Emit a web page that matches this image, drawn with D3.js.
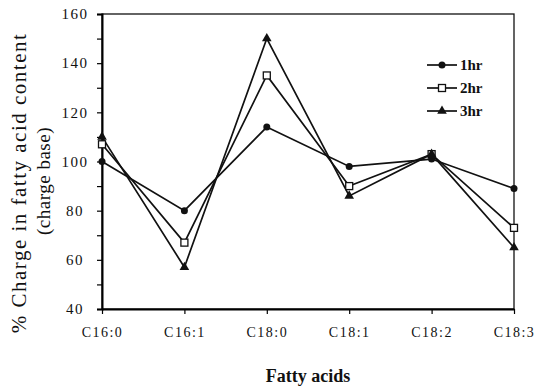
<!DOCTYPE html>
<html>
<head>
<meta charset="utf-8">
<script src="https://cdn.jsdelivr.net/npm/d3@7"></script>
<style>
  body { margin: 0; background: #fff; }
  svg { display: block; }
  text { font-family: 'Liberation Serif', 'DejaVu Serif', serif; fill: #111; }
</style>
</head>
<body>
<svg id="chart"></svg>
<script>
// data
const acids = ['C16:0', 'C16:1', 'C18:0', 'C18:1', 'C18:2', 'C18:3'];
const hr1 = [100, 80, 114, 98, 101, 89];
const hr2 = [107, 67, 135, 90, 103, 73];
const hr3 = [110, 57, 150, 86, 103, 65];
const seriesNames = ['1hr', '2hr', '3hr'];
const yTicks = [40, 60, 80, 100, 120, 140, 160];

const W = 536, H = 386;
const margin = {top: 14, right: 22, bottom: 77, left: 102};
const width = W - margin.left - margin.right;
const height = H - margin.top - margin.bottom;

const series = [
  {name: seriesNames[0], values: hr1, marker: 'circle'},
  {name: seriesNames[1], values: hr2, marker: 'square'},
  {name: seriesNames[2], values: hr3, marker: 'triangle'}
];

const svg = d3.select('#chart').attr('width', W).attr('height', H);
const g = svg.append('g').attr('transform', 'translate(' + margin.left + ',' + margin.top + ')');

const x = d3.scalePoint().domain(acids).range([0, width]);
const y = d3.scaleLinear().domain([40, 160]).range([height, 0]);

// frame
g.append('rect')
  .attr('width', width).attr('height', height)
  .attr('fill', 'none').attr('stroke', '#111').attr('stroke-width', 1.3);

// y axis: ticks every 10, labels every 20
const yAxis = g.append('g')
  .call(d3.axisLeft(y).tickValues(d3.range(40, 161, 10)).tickSize(5).tickFormat(''));
yAxis.select('.domain').attr('stroke-width', 2);
yAxis.selectAll('.tick line').attr('stroke-width', 1.2);

g.selectAll('.ylab')
  .data(yTicks).enter()
  .append('text')
  .attr('class', 'ylab')
  .attr('x', -27)
  .attr('y', d => y(d))
  .attr('dy', '0.35em')
  .attr('text-anchor', 'middle')
  .style('font-size', '15px')
  .style('letter-spacing', '1.5px')
  .text(d => d);

// x axis
const xAxis = g.append('g')
  .attr('transform', 'translate(0,' + height + ')')
  .call(d3.axisBottom(x).tickSize(5).tickSizeOuter(0).tickPadding(13));
xAxis.select('.domain').attr('stroke-width', 2);
xAxis.selectAll('.tick line').attr('stroke-width', 1.2);
xAxis.selectAll('.tick text')
  .style('font-size', '14px')
  .style('letter-spacing', '1.5px')
  .style('font-family', "'Liberation Serif', serif")
  .attr('fill', '#111');

// axis titles
svg.append('text')
  .attr('x', margin.left + width / 2)
  .attr('y', 382)
  .attr('text-anchor', 'middle')
  .style('font-size', '18px')
  .style('font-weight', 'bold')
  .text('Fatty acids');

svg.append('text')
  .attr('transform', 'translate(26,' + 183 + ') rotate(-90)')
  .attr('text-anchor', 'middle')
  .style('font-size', '21px')
  .style('letter-spacing', '1.5px')
  .text('% Charge in fatty acid content');

svg.append('text')
  .attr('transform', 'translate(50,' + 181 + ') rotate(-90)')
  .attr('text-anchor', 'middle')
  .style('font-size', '19px')
  .style('letter-spacing', '0.5px')
  .text('(charge base)');

// markers
const drawMarker = (sel, type) => {
  if (type === 'circle') {
    sel.append('circle').attr('r', 3.5).attr('fill', '#111');
  } else if (type === 'square') {
    sel.append('rect').attr('x', -3.5).attr('y', -3.5).attr('width', 7).attr('height', 7)
      .attr('fill', '#fff').attr('stroke', '#111').attr('stroke-width', 1.3);
  } else {
    sel.append('path').attr('d', d3.symbol().type(d3.symbolTriangle).size(40)).attr('fill', '#111');
  }
};

const line = d3.line()
  .x((d, i) => x(acids[i]))
  .y(d => y(d));

series.forEach(s => {
  g.append('path')
    .datum(s.values)
    .attr('d', line)
    .attr('fill', 'none')
    .attr('stroke', '#111')
    .attr('stroke-width', 1.7);
});

series.forEach(s => {
  g.selectAll('.m-' + s.name)
    .data(s.values).enter()
    .append('g')
    .attr('transform', (d, i) => 'translate(' + x(acids[i]) + ',' + y(d) + ')')
    .each(function() { drawMarker(d3.select(this), s.marker); });
});

// legend
const legend = svg.append('g').attr('transform', 'translate(427,65)');
series.forEach((s, i) => {
  const row = legend.append('g').attr('transform', 'translate(0,' + (i * 23) + ')');
  row.append('line').attr('x1', 0).attr('x2', 30)
    .attr('stroke', '#111').attr('stroke-width', 1.7);
  drawMarker(row.append('g').attr('transform', 'translate(15,0)'), s.marker);
  row.append('text')
    .attr('x', 33).attr('dy', '0.35em')
    .style('font-size', '15px')
    .style('font-weight', 'bold')
    .text(s.name);
});
</script>
</body>
</html>
